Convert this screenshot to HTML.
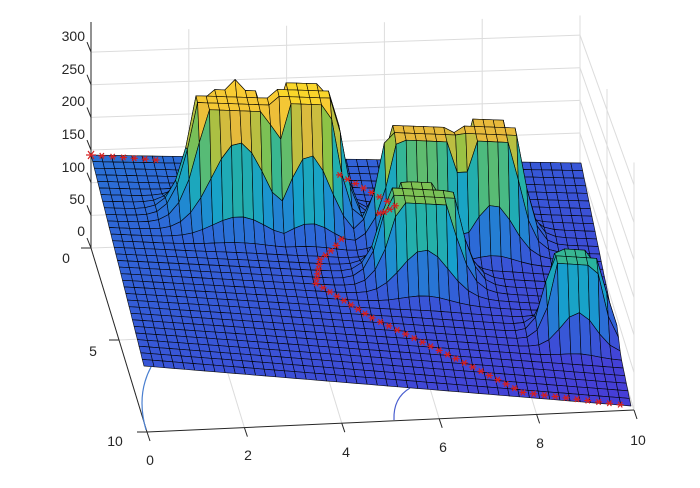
<!DOCTYPE html>
<html><head><meta charset="utf-8"><style>
html,body{margin:0;padding:0;background:#fff;}
svg{display:block;font-family:"Liberation Sans",sans-serif;}
</style></head><body>
<svg id="s" width="700" height="488" viewBox="0 0 700 488" xmlns="http://www.w3.org/2000/svg">
<g id="axes" stroke="#dcdcdc" stroke-width="1" fill="none"></g>
<g id="floor"></g>
<path d="M151 367 Q136 395 146 430" stroke="#4a7fd0" stroke-width="1.2" fill="none"/>
<path d="M410 388 Q393 398 394 420" stroke="#4a5fd0" stroke-width="1.2" fill="none"/>
<g id="surf" stroke="#000" stroke-width="0.65" stroke-opacity="0.9" stroke-linejoin="round"></g>
<g id="stars" stroke="#d41f1f" stroke-width="1.2"></g>
<g id="lab" fill="#262626" font-size="14"></g>
</svg>
<script>
var NS="http://www.w3.org/2000/svg";
function el(p,t,a,txt){var e=document.createElementNS(NS,t);for(var k in a)e.setAttribute(k,a[k]);if(txt!=null)e.textContent=txt;document.getElementById(p).appendChild(e);return e;}
function bil(c,u,v){var x=(1-v)*((1-u)*c[0][0]+u*c[1][0])+v*((1-u)*c[2][0]+u*c[3][0]);var y=(1-v)*((1-u)*c[0][1]+u*c[1][1])+v*((1-u)*c[2][1]+u*c[3][1]);return [x,y];}
var F=[[91,248],[580,231],[147,432],[634,410]];
function backPt(u,z){var b=bil(F,u,0);var s=0.653;return [b[0],b[1]-z*s];}
for(var i=0;i<=5;i++){var u=i/5;var a=backPt(u,0),b=backPt(u,330);el("axes","line",{x1:a[0],y1:a[1],x2:b[0],y2:b[1]});}
for(var z=0;z<=300;z+=50){var a=backPt(0,z),b=backPt(1,z);el("axes","line",{x1:a[0],y1:a[1],x2:b[0],y2:b[1]});
 var c=bil(F,1,1);var rz=[c[0],c[1]-z*0.75];el("axes","line",{x1:b[0],y1:b[1],x2:rz[0],y2:rz[1]});}
[0.5,1].forEach(function(v){var b=bil(F,1,v);var sc=0.653+0.097*v;el("axes","line",{x1:b[0],y1:b[1],x2:b[0],y2:b[1]-330*sc});});
for(var i=0;i<=5;i++){var a=bil(F,i/5,0),b=bil(F,i/5,1);el("axes","line",{x1:a[0],y1:a[1],x2:b[0],y2:b[1]});}
[0.5].forEach(function(v){var a=bil(F,0,v),b=bil(F,1,v);el("axes","line",{x1:a[0],y1:a[1],x2:b[0],y2:b[1]});});
function L(x1,y1,x2,y2){el("floor","line",{x1:x1,y1:y1,x2:x2,y2:y2,stroke:"#262626","stroke-width":1});}
L(91,22,91,248);L(91,248,147,432);L(147,432,634,410);
for(var z=0;z<=300;z+=50){var p=backPt(0,z);L(p[0],p[1],p[0]-4,p[1]-10);}
for(var i=0;i<=5;i++){var p=bil(F,i/5,1);L(p[0],p[1],p[0]+3,p[1]+9);}
[0,0.5,1].forEach(function(v){var p=bil(F,0,v);L(p[0],p[1],p[0]-10,p[1]);});
var zl=[["300",36],["250",69],["200",101],["150",134],["100",167],["50",199],["0",231]];
zl.forEach(function(t){el("lab","text",{x:85,y:t[1]+5,"text-anchor":"end"},t[0]);});
var xl=[["0",150,460],["2",248,455],["4",346,452],["6",443,447],["8",540,443],["10",638,440]];
xl.forEach(function(t){el("lab","text",{x:t[1],y:t[2]+5,"text-anchor":"middle"},t[0]);});
[["0",66,258],["5",93,351],["10",115,441]].forEach(function(t){el("lab","text",{x:t[1],y:t[2]+5,"text-anchor":"middle"},t[0]);});
var S=[[91,155],[581,163],[144,366],[631,406]];
var B=[
 {u:.265,v:.27,su:.055,sv:.045,H:115,c:1},
 {u:.41,v:.265,su:.042,sv:.045,H:124,c:1},
 {u:.265,v:.225,su:.012,sv:.012,H:162,c:0},
 {u:.215,v:.25,su:.015,sv:.02,H:125,c:0},
 {u:.64,v:.34,su:.05,sv:.035,H:106,c:1},
 {u:.78,v:.33,su:.04,sv:.04,H:108,c:1},
 {u:.575,v:.35,su:.01,sv:.012,H:124,c:0},
 {u:.65,v:.33,su:.01,sv:.012,H:122,c:0},
 {u:.70,v:.30,su:.02,sv:.02,H:134,c:0},
 {u:.62,v:.52,su:.048,sv:.04,H:86,c:1},
 {u:.915,v:.72,su:.035,sv:.032,H:78,c:1}
];
function h(u,v){var m=0;B.forEach(function(b){var du=(u-b.u)/b.su,dv=(v-b.v)/b.sv;var g=Math.exp(-(du*du+dv*dv)/2);var val=b.c?b.H*Math.min(1,3*g):b.H*g;if(val>m)m=val;});return m;}
var CM=[[0,[62,38,168]],[.125,[70,62,215]],[.25,[45,105,215]],[.375,[22,160,205]],[.5,[40,180,160]],[.625,[140,195,70]],[.75,[232,186,60]],[.875,[250,205,50]],[1,[249,251,14]]];
function cmap(c){c=Math.max(0,Math.min(1,c));for(var i=1;i<CM.length;i++){if(c<=CM[i][0]){var a=CM[i-1],b=CM[i];var t=(c-a[0])/(b[0]-a[0]);var r=[0,1,2].map(function(k){return Math.round(a[1][k]+(b[1][k]-a[1][k])*t);});return "rgb("+r.join(",")+")";}}return "rgb(249,251,14)";}
var NU=48,NV=32;var P=[],Hh=[];
for(var j=0;j<=NV;j++){P[j]=[];Hh[j]=[];for(var i=0;i<=NU;i++){var u=i/NU,v=j/NV;var hh=h(u,v);var b=bil(S,u,v);P[j][i]=[b[0],b[1]-hh];Hh[j][i]=hh;}}
var sg=document.getElementById("surf");var frag=document.createDocumentFragment();
for(var j=0;j<NV;j++){for(var i=0;i<NU;i++){
 var q=[P[j][i],P[j][i+1],P[j+1][i+1],P[j+1][i]];
 var hs=(Hh[j][i]+Hh[j][i+1]+Hh[j+1][i]+Hh[j+1][i+1])/4;
 var u=(i+.5)/NU,v=(j+.5)/NV;
 var c=0.12+0.15*(1-(u+v)/2)+0.0035*hs+0.000016*hs*hs;
 var e=document.createElementNS(NS,"polygon");
 e.setAttribute("points",q.map(function(p){return p[0].toFixed(1)+","+p[1].toFixed(1);}).join(" "));
 e.setAttribute("fill",cmap(c));frag.appendChild(e);}}
sg.appendChild(frag);
var path=[[0,0],[0.5,0.07],[0.6,0.2],[0.42,0.45],[0.40,0.56],[0.5,0.7],[0.78,0.98],[1,1]];
var step=0.022;
for(var k=0;k<path.length-1;k++){var a=path[k],b=path[k+1];var d=Math.hypot(b[0]-a[0],b[1]-a[1]);var n=Math.max(1,Math.round(d/step));
 for(var t=0;t<n;t++){var u=a[0]+(b[0]-a[0])*t/n,v=a[1]+(b[1]-a[1])*t/n;if(k==0&&u>0.15)continue;if(k==1&&u<0.5)continue;var hh=h(u,v);if(hh>8)continue;var p=bil(S,u,v);var x=p[0],y=p[1]-hh;var r=(k==0&&t==0)?5:3.5;
  el("stars","line",{x1:x-r,y1:y,x2:x+r,y2:y});el("stars","line",{x1:x-r*.6,y1:y-r*.8,x2:x+r*.6,y2:y+r*.8});el("stars","line",{x1:x-r*.6,y1:y+r*.8,x2:x+r*.6,y2:y-r*.8});}}
</script>
</body></html>
